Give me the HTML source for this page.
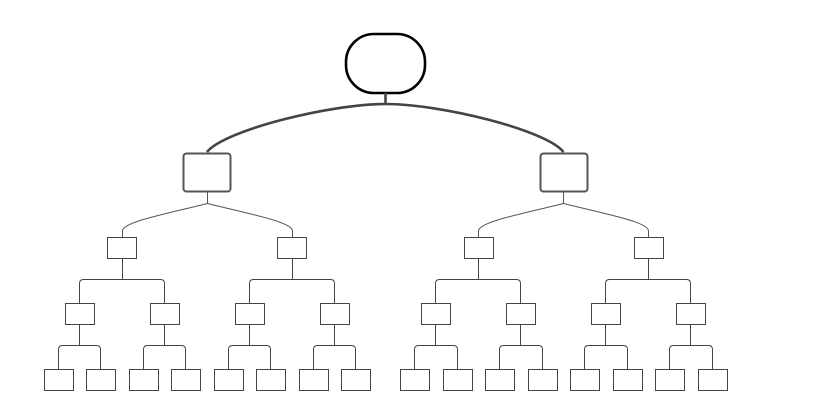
<!DOCTYPE html>
<html><head><meta charset="utf-8"><style>html,body{margin:0;padding:0;background:#fff;}svg{display:block}</style></head>
<body>
<svg width="826" height="417" viewBox="0 0 826 417" xmlns="http://www.w3.org/2000/svg">
<rect x="0" y="0" width="826" height="417" fill="#fff"/>
<rect x="346" y="34" width="79" height="59" rx="28" fill="#fff" stroke="#000" stroke-width="2.6"/>
<g fill="none" stroke="#444" stroke-width="2.6">
<path d="M385.5,93 V104"/>
<path d="M385.5,104 C330,104 225,130 207,152"/>
<path d="M385.5,104 C441,104 546,130 563.5,152"/>
</g>
<rect x="183.5" y="153.5" width="47" height="38" rx="3" fill="#fff" stroke="#555" stroke-width="2"/>
<rect x="540.5" y="153.5" width="47" height="38" rx="3" fill="#fff" stroke="#555" stroke-width="2"/>
<g fill="none" stroke="#555" stroke-width="1">
<path d="M207.5,192 V203.5 C165,214 122.5,222 122.5,231 V237"/>
<path d="M207.5,203.5 C250,214 292.5,222 292.5,231 V237"/>
<path d="M563.5,192 V203.5 C521,214 478.5,222 478.5,231 V237"/>
<path d="M563.5,203.5 C606,214 648.5,222 648.5,231 V237"/>
</g>
<g fill="#fff" stroke="#444" stroke-width="1">
<rect x="107.5" y="237.5" width="29" height="21"/>
<rect x="277.5" y="237.5" width="29" height="21"/>
<rect x="464.5" y="237.5" width="29" height="21"/>
<rect x="634.5" y="237.5" width="29" height="21"/>
</g>
<g fill="none" stroke="#444" stroke-width="1">
<path d="M122.5,258 V279.5 M79.5,303 V283.5 Q79.5,279.5 83.5,279.5 H160.5 Q164.5,279.5 164.5,283.5 V303"/>
<path d="M292.5,258 V279.5 M249.5,303 V283.5 Q249.5,279.5 253.5,279.5 H330.5 Q334.5,279.5 334.5,283.5 V303"/>
<path d="M478.5,258 V279.5 M435.5,303 V283.5 Q435.5,279.5 439.5,279.5 H516.5 Q520.5,279.5 520.5,283.5 V303"/>
<path d="M648.5,258 V279.5 M605.5,303 V283.5 Q605.5,279.5 609.5,279.5 H686.5 Q690.5,279.5 690.5,283.5 V303"/>
<path d="M79.5,324 V345.5 M58.5,369 V349.5 Q58.5,345.5 62.5,345.5 H96.5 Q100.5,345.5 100.5,349.5 V369"/>
<path d="M164.5,324 V345.5 M143.5,369 V349.5 Q143.5,345.5 147.5,345.5 H181.5 Q185.5,345.5 185.5,349.5 V369"/>
<path d="M249.5,324 V345.5 M228.5,369 V349.5 Q228.5,345.5 232.5,345.5 H266.5 Q270.5,345.5 270.5,349.5 V369"/>
<path d="M334.5,324 V345.5 M313.5,369 V349.5 Q313.5,345.5 317.5,345.5 H351.5 Q355.5,345.5 355.5,349.5 V369"/>
<path d="M435.5,324 V345.5 M414.5,369 V349.5 Q414.5,345.5 418.5,345.5 H453.5 Q457.5,345.5 457.5,349.5 V369"/>
<path d="M520.5,324 V345.5 M499.5,369 V349.5 Q499.5,345.5 503.5,345.5 H538.5 Q542.5,345.5 542.5,349.5 V369"/>
<path d="M605.5,324 V345.5 M584.5,369 V349.5 Q584.5,345.5 588.5,345.5 H623.5 Q627.5,345.5 627.5,349.5 V369"/>
<path d="M690.5,324 V345.5 M669.5,369 V349.5 Q669.5,345.5 673.5,345.5 H708.5 Q712.5,345.5 712.5,349.5 V369"/>
</g>
<g fill="#fff" stroke="#444" stroke-width="1">
<rect x="65.5" y="303.5" width="29" height="21"/>
<rect x="150.5" y="303.5" width="29" height="21"/>
<rect x="235.5" y="303.5" width="29" height="21"/>
<rect x="320.5" y="303.5" width="29" height="21"/>
<rect x="421.5" y="303.5" width="29" height="21"/>
<rect x="506.5" y="303.5" width="29" height="21"/>
<rect x="591.5" y="303.5" width="29" height="21"/>
<rect x="676.5" y="303.5" width="29" height="21"/>
<rect x="44.5" y="369.5" width="29" height="21"/>
<rect x="86.5" y="369.5" width="29" height="21"/>
<rect x="129.5" y="369.5" width="29" height="21"/>
<rect x="171.5" y="369.5" width="29" height="21"/>
<rect x="214.5" y="369.5" width="29" height="21"/>
<rect x="256.5" y="369.5" width="29" height="21"/>
<rect x="299.5" y="369.5" width="29" height="21"/>
<rect x="341.5" y="369.5" width="29" height="21"/>
<rect x="400.5" y="369.5" width="29" height="21"/>
<rect x="443.5" y="369.5" width="29" height="21"/>
<rect x="485.5" y="369.5" width="29" height="21"/>
<rect x="528.5" y="369.5" width="29" height="21"/>
<rect x="570.5" y="369.5" width="29" height="21"/>
<rect x="613.5" y="369.5" width="29" height="21"/>
<rect x="655.5" y="369.5" width="29" height="21"/>
<rect x="698.5" y="369.5" width="29" height="21"/>
</g>
</svg>
</body></html>
